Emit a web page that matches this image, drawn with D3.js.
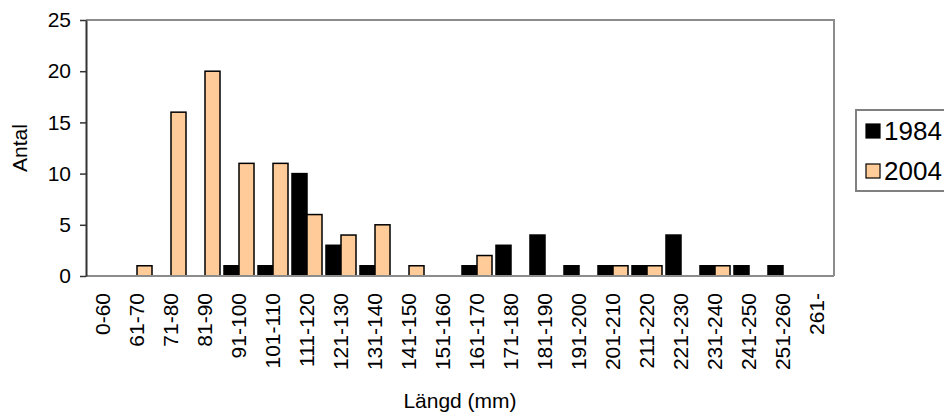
<!DOCTYPE html>
<html>
<head>
<meta charset="utf-8">
<script src="https://cdn.jsdelivr.net/npm/d3@7/dist/d3.min.js"></script>
<style>
  html, body { margin: 0; padding: 0; background: #fff; overflow: hidden; }
  svg { display: block; font-family: "Liberation Sans", Arial, sans-serif; }
</style>
</head>
<body>
<svg id="chart" width="944" height="414"></svg>
<script>
// Length classes (mm)
const categories = ["0-60","61-70","71-80","81-90","91-100","101-110","111-120","121-130","131-140","141-150","151-160","161-170","171-180","181-190","191-200","201-210","211-220","221-230","231-240","241-250","251-260","261-"];
const seriesNames = ["1984", "2004"];
const values1984 = [0,0,0,0,1,1,10,3,1,0,0,1,3,4,1,1,1,4,1,1,1,0];
const values2004 = [0,1,16,20,11,11,6,4,5,1,0,2,0,0,0,1,1,0,1,0,0,0];
const yTicks = [0, 5, 10, 15, 20, 25];
const colors = ["#000000", "#FFCC99"];

const svg = d3.select("#chart");
const margin = { left: 86, top: 20, right: 110, bottom: 138 };
const W = 944, H = 414;
const x0 = margin.left, x1 = W - margin.right;
const y0 = H - margin.bottom, yTop = margin.top;

const x = d3.scaleBand().domain(categories).range([x0, x1]).paddingInner(0).paddingOuter(0);
const xs = d3.scaleBand().domain(seriesNames).range([0, x.bandwidth()]).paddingInner(0).paddingOuter(0.133);
const y = d3.scaleLinear().domain([0, 25]).range([y0, yTop]);

const series = [values1984, values2004];

// plot frame: top and right edges
svg.append("path")
  .attr("d", `M${x0},${yTop}H${x1}V${y0}`)
  .attr("fill", "none").attr("stroke", "#8c8c8c").attr("stroke-width", 2);

// bars
const groups = svg.append("g");
seriesNames.forEach((name, si) => {
  groups.selectAll(null)
    .data(categories.map((c, i) => ({ c, v: series[si][i] })).filter(d => d.v > 0))
    .join("rect")
      .attr("x", d => x(d.c) + xs(name))
      .attr("y", d => y(d.v))
      .attr("width", xs.bandwidth())
      .attr("height", d => y(0) - y(d.v))
      .attr("fill", colors[si])
      .attr("stroke", "#000")
      .attr("stroke-width", 1.5);
});

// x baseline
svg.append("line")
  .attr("x1", x0).attr("x2", x1).attr("y1", y0).attr("y2", y0)
  .attr("stroke", "#8c8c8c").attr("stroke-width", 2);

// y axis
const yAxis = svg.append("g")
  .attr("transform", `translate(${x0},0)`)
  .call(d3.axisLeft(y).tickValues(yTicks).tickSize(6).tickPadding(9).tickSizeOuter(0));
yAxis.select(".domain").attr("stroke", "#333").attr("stroke-width", 2);
yAxis.selectAll(".tick line").attr("stroke", "#333").attr("stroke-width", 1.5);
yAxis.selectAll(".tick text").attr("font-size", 21).attr("fill", "#000")
  .attr("font-family", "Liberation Sans, Arial, sans-serif");

// x axis labels (rotated)
const xAxis = svg.append("g")
  .attr("transform", `translate(0,${y0})`)
  .call(d3.axisBottom(x).tickSize(0).tickPadding(0));
xAxis.select(".domain").remove();
xAxis.selectAll(".tick text")
  .attr("font-size", 21).attr("fill", "#000")
  .attr("font-family", "Liberation Sans, Arial, sans-serif")
  .attr("transform", "rotate(-90)")
  .attr("text-anchor", "end")
  .attr("x", -17).attr("y", 0).attr("dy", "0.35em");

// axis titles
svg.append("text")
  .attr("x", (x0 + x1) / 2).attr("y", 408)
  .attr("text-anchor", "middle").attr("font-size", 21)
  .text("Längd (mm)");
svg.append("text")
  .attr("transform", `translate(27,${(y0 + yTop) / 2}) rotate(-90)`)
  .attr("text-anchor", "middle").attr("font-size", 21)
  .text("Antal");

// legend
const lg = svg.append("g").attr("transform", "translate(856,110)");
lg.append("rect").attr("x", 0).attr("y", 0).attr("width", 100).attr("height", 81)
  .attr("fill", "#fff").attr("stroke", "#808080").attr("stroke-width", 2);
seriesNames.forEach((name, i) => {
  const cy = 21 + i * 40;
  lg.append("rect").attr("x", 10).attr("y", cy - 7).attr("width", 14).attr("height", 14)
    .attr("fill", colors[i]).attr("stroke", "#000").attr("stroke-width", 1.2);
  lg.append("text").attr("x", 28).attr("y", cy).attr("dy", "0.36em")
    .attr("font-size", 26).text(name);
});
</script>
</body>
</html>
